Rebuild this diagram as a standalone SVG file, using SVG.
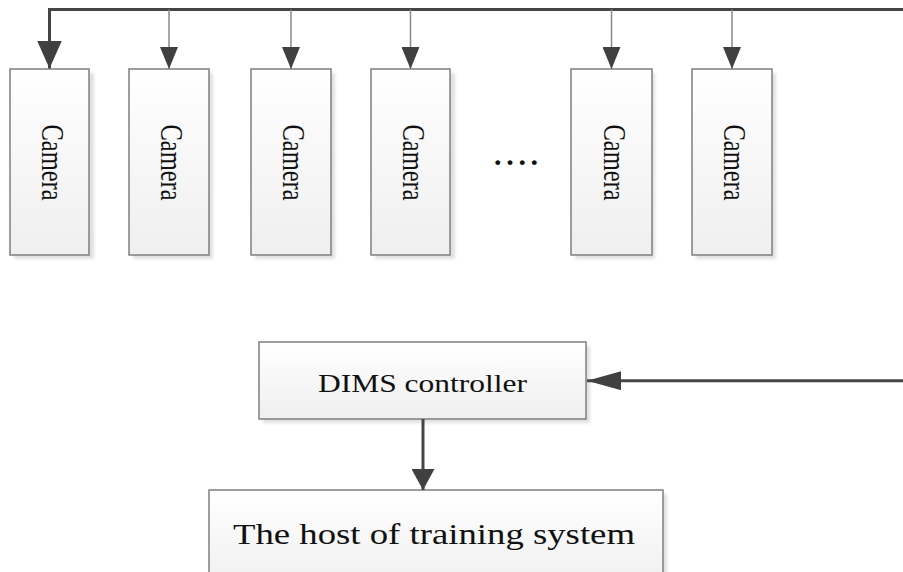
<svg xmlns="http://www.w3.org/2000/svg" width="903" height="572" viewBox="0 0 903 572">
  <style>
    .box { fill: url(#boxfill); stroke: #7f7f7f; stroke-width: 1.5; }
    .shadow { fill: #c8c8c8; opacity: 0.55; filter: url(#blur); }
    .lbl { font-family: "Liberation Serif", "Times New Roman", serif; fill: #111; }
    .thick { fill: none; stroke: #454545; stroke-width: 3; }
    .thin { fill: none; stroke: #8a8a8a; stroke-width: 1.5; }
    .ah { fill: #404040; }
  </style>
  <defs>
    <linearGradient id="boxfill" x1="0" y1="0" x2="0" y2="1">
      <stop offset="0" stop-color="#ffffff"/>
      <stop offset="1" stop-color="#efefef"/>
    </linearGradient>
    <filter id="blur" x="-10%" y="-10%" width="120%" height="120%">
      <feGaussianBlur stdDeviation="1.5"/>
    </filter>
    <marker id="ah-big" markerUnits="userSpaceOnUse" markerWidth="28" markerHeight="25" refX="28" refY="12.5" orient="auto">
      <path class="ah" d="M0,0 L28,12.5 L0,25 z"/>
    </marker>
    <marker id="ah-small" markerUnits="userSpaceOnUse" markerWidth="22" markerHeight="18" refX="22" refY="9" orient="auto">
      <path class="ah" d="M0,0 L22,9 L0,18 z"/>
    </marker>
    <marker id="ah-h" markerUnits="userSpaceOnUse" markerWidth="34" markerHeight="19" refX="34" refY="9.5" orient="auto">
      <path class="ah" d="M0,0 L34,9.5 L0,19 z"/>
    </marker>
    <marker id="ah-d" markerUnits="userSpaceOnUse" markerWidth="21" markerHeight="23" refX="21" refY="11.5" orient="auto">
      <path class="ah" d="M0,0 L21,11.5 L0,23 z"/>
    </marker>
  </defs>
  <rect width="903" height="572" fill="#ffffff"/>

  <g id="camera1">
    <rect class="shadow" x="14" y="73" width="80" height="186"/>
    <rect class="box" x="10" y="69" width="79" height="186"/>
    <text class="lbl" font-size="25" text-anchor="middle" textLength="76" lengthAdjust="spacingAndGlyphs" transform="translate(41.5,162.5) scale(1.28,1) rotate(90)">Camera</text>
  </g>
  <g id="camera2">
    <rect class="shadow" x="133" y="73" width="80" height="186"/>
    <rect class="box" x="129" y="69" width="80" height="186"/>
    <text class="lbl" font-size="25" text-anchor="middle" textLength="76" lengthAdjust="spacingAndGlyphs" transform="translate(161,162.5) scale(1.28,1) rotate(90)">Camera</text>
  </g>
  <g id="camera3">
    <rect class="shadow" x="255" y="73" width="80" height="186"/>
    <rect class="box" x="251" y="69" width="80" height="186"/>
    <text class="lbl" font-size="25" text-anchor="middle" textLength="76" lengthAdjust="spacingAndGlyphs" transform="translate(283,162.5) scale(1.28,1) rotate(90)">Camera</text>
  </g>
  <g id="camera4">
    <rect class="shadow" x="375" y="73" width="80" height="186"/>
    <rect class="box" x="371" y="69" width="79" height="186"/>
    <text class="lbl" font-size="25" text-anchor="middle" textLength="76" lengthAdjust="spacingAndGlyphs" transform="translate(402.5,162.5) scale(1.28,1) rotate(90)">Camera</text>
  </g>
  <g id="ellipsis">
    <text class="lbl" font-size="30" font-weight="bold" letter-spacing="4.7" x="494" y="164.5">....</text>
  </g>
  <g id="camera5">
    <rect class="shadow" x="575" y="73" width="80" height="186"/>
    <rect class="box" x="571" y="69" width="81" height="186"/>
    <text class="lbl" font-size="25" text-anchor="middle" textLength="76" lengthAdjust="spacingAndGlyphs" transform="translate(603.5,162.5) scale(1.28,1) rotate(90)">Camera</text>
  </g>
  <g id="camera6">
    <rect class="shadow" x="696" y="73" width="80" height="186"/>
    <rect class="box" x="692" y="69" width="80" height="186"/>
    <text class="lbl" font-size="25" text-anchor="middle" textLength="76" lengthAdjust="spacingAndGlyphs" transform="translate(724,162.5) scale(1.28,1) rotate(90)">Camera</text>
  </g>

  <g id="dims">
    <rect class="shadow" x="263" y="346" width="327" height="77"/>
    <rect class="box" x="259" y="342" width="327" height="77"/>
    <text class="lbl" font-size="26" x="318" y="392" textLength="209" lengthAdjust="spacingAndGlyphs">DIMS controller</text>
  </g>
  <g id="host">
    <rect class="shadow" x="212" y="494" width="455" height="100"/>
    <rect class="box" x="209" y="490" width="454" height="100"/>
    <text class="lbl" font-size="30" x="233" y="544" textLength="402" lengthAdjust="spacingAndGlyphs">The host of training system</text>
  </g>

  <g id="connectors">
    <path class="thick" d="M903,9.5 H49.5 V68.5" marker-end="url(#ah-big)"/>
    <path class="thin" d="M169,9.5 V69" marker-end="url(#ah-small)"/>
    <path class="thin" d="M291,9.5 V69" marker-end="url(#ah-small)"/>
    <path class="thin" d="M410.5,9.5 V69" marker-end="url(#ah-small)"/>
    <path class="thin" d="M611.5,9.5 V69" marker-end="url(#ah-small)"/>
    <path class="thin" d="M732,9.5 V69" marker-end="url(#ah-small)"/>
    <path class="thick" d="M903,380.7 H587" marker-end="url(#ah-h)"/>
    <path class="thick" d="M423,419 V490" marker-end="url(#ah-d)"/>
  </g>
</svg>
